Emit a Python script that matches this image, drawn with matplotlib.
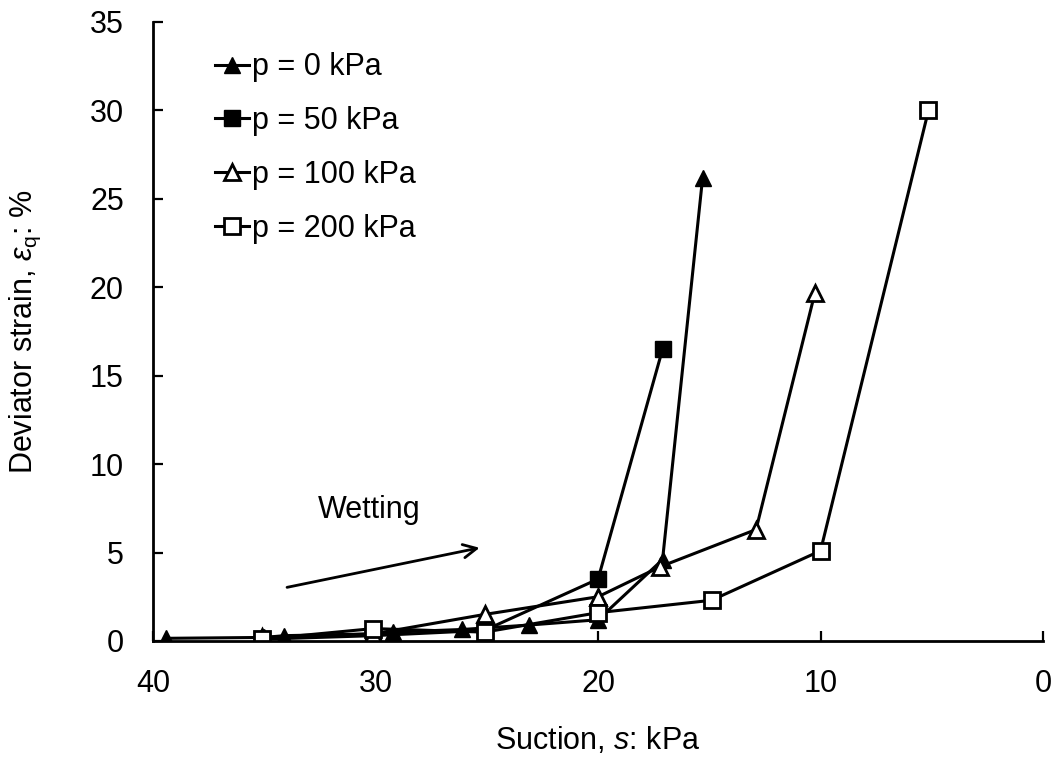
import numpy as np
import matplotlib
matplotlib.use("Agg")
import matplotlib.pyplot as plt

plt.rcParams['font.family'] = ['Liberation Sans', 'DejaVu Sans']
plt.rcParams['mathtext.fontset'] = 'custom'
plt.rcParams['mathtext.rm'] = 'Liberation Sans'
plt.rcParams['mathtext.it'] = 'Liberation Sans:italic'
plt.rcParams['font.size'] = 22

# данные: suction s (kPa) -> deviator strain (%)
s_p0 = [39.4, 35.0, 34.1, 30.1, 29.2, 26.1, 23.1, 20.0, 17.1, 15.3]
e_p0 = [0.15, 0.2, 0.3, 0.4, 0.5, 0.65, 0.9, 1.2, 4.6, 26.2]

s_p50 = [35.1, 30.1, 25.1, 20.0, 17.1]
e_p50 = [0.1, 0.3, 0.6, 3.5, 16.5]

s_p100 = [35.1, 30.1, 25.1, 20.0, 17.2, 12.9, 10.25]
e_p100 = [0.2, 0.4, 1.5, 2.5, 4.2, 6.3, 19.7]

s_p200 = [35.1, 30.1, 25.1, 20.0, 14.9, 10.0, 5.15]
e_p200 = [0.1, 0.7, 0.5, 1.6, 2.3, 5.1, 30.0]

labels = ['p = 0 kPa', 'p = 50 kPa', 'p = 100 kPa', 'p = 200 kPa']

fig = plt.figure(figsize=(10.57, 7.58), dpi=100)
ax = fig.add_axes([0.1448, 0.1544, 0.842, 0.8166])

lw = 2.2
ax.plot(s_p0, e_p0, '-^', color='black', lw=lw, ms=11, mfc='black', label=labels[0])
ax.plot(s_p50, e_p50, '-s', color='black', lw=lw, ms=12, mfc='black', label=labels[1])
ax.plot(s_p100, e_p100, '-^', color='black', lw=lw, ms=11.5, mfc='white', mew=2, label=labels[2])
ax.plot(s_p200, e_p200, '-s', color='black', lw=lw, ms=11.5, mfc='white', mew=2, label=labels[3])

ax.set_xlim(40, 0)
ax.set_ylim(0, 35)
ax.set_xticks([40, 30, 20, 10, 0])
ax.set_yticks(np.arange(0, 36, 5))
ax.tick_params(direction='in', length=7, width=1.6, labelsize=22)
ax.tick_params(axis='x', pad=20)
ax.tick_params(axis='y', pad=21)
for side in ['top', 'right']:
    ax.spines[side].set_visible(False)
for side in ['left', 'bottom']:
    ax.spines[side].set_linewidth(2.0)

ax.set_xlabel('Suction, $s$: kPa', fontsize=22, labelpad=19)
ax.set_ylabel(r'Deviator strain, $\varepsilon_{\mathrm{q}}$: %', fontsize=22, labelpad=34)

# стрелка "Wetting"
ax.annotate('', xy=(25.2, 5.3), xytext=(34.1, 3.0),
            arrowprops=dict(arrowstyle='->', color='black', lw=2, mutation_scale=24))
ax.text(30.3, 7.4, 'Wetting', ha='center', va='center', fontsize=22)

ax.legend(loc='upper left', bbox_to_anchor=(0.07, 0.951), frameon=False,
          borderpad=0, borderaxespad=0,
          handlelength=1.1, handletextpad=0.1, labelspacing=0.78, fontsize=22)

fig.savefig('out.png', dpi=100)
